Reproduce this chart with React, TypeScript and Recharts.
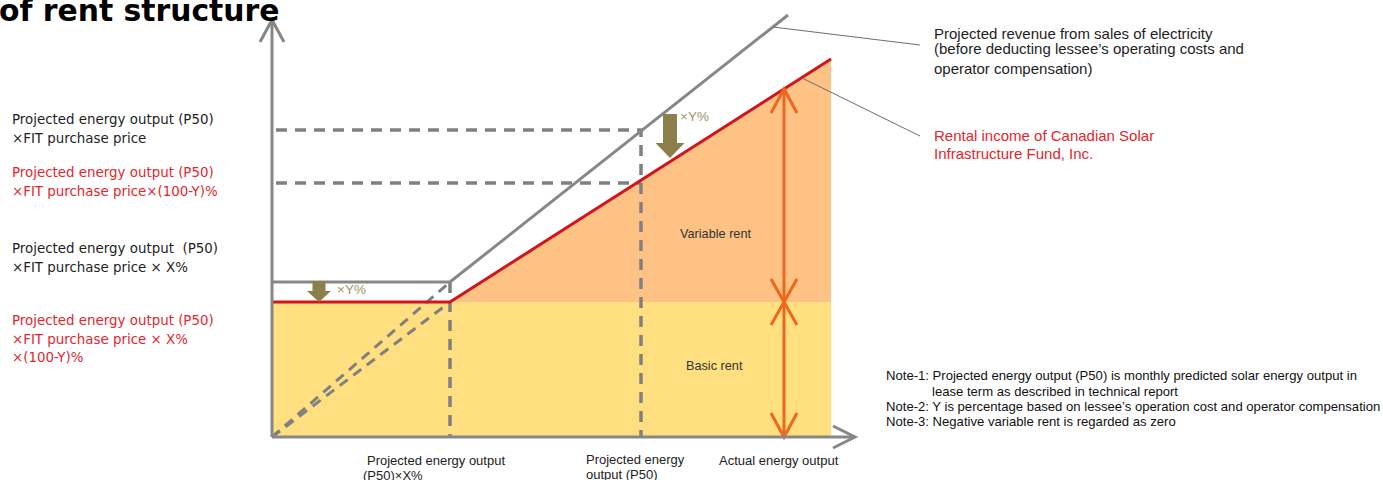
import React from "react";
import { Area, ComposedChart, Line, Scatter, XAxis, YAxis } from "recharts";

// diagram units: x = energy output, y = amount (origin where the two axes meet)
const BASIC_RENT_LEVEL = 135;

const revenueLine = [
  { output: 0, amount: 155 },
  { output: 178, amount: 155 },
  { output: 516, amount: 422 },
];
const revenueDashed = [
  { output: 0, amount: 0 },
  { output: 178, amount: 155 },
];
const rentLine = [
  { output: 0, amount: 135 },
  { output: 178, amount: 135 },
  { output: 559, amount: 378 },
];
const rentDashed = [
  { output: 0, amount: 0 },
  { output: 178, amount: 135 },
];
const basicRentArea = [
  { output: 0, amount: 135 },
  { output: 559, amount: 135 },
];
const variableRentArea = [
  { output: 178, amount: 135 },
  { output: 559, amount: 378 },
];
const p50RevenueGuide = [
  { output: 4, amount: 307 },
  { output: 369, amount: 307 },
  { output: 369, amount: 0 },
];
const p50RentGuide = [
  { output: 4, amount: 254 },
  { output: 369, amount: 254 },
];
const xPctGuide = [
  { output: 178, amount: 155 },
  { output: 178, amount: 0 },
];

const yAxisLine = [
  { output: 0, amount: 0 },
  { output: 0, amount: 417 },
];
const yAxisHead = [
  { output: -12, amount: 395 },
  { output: 0, amount: 417 },
  { output: 12, amount: 395 },
];
const xAxisLine = [
  { output: 0, amount: 0 },
  { output: 583, amount: 0 },
];
const xAxisHead = [
  { output: 561, amount: 11 },
  { output: 583, amount: 0 },
  { output: 561, amount: -11 },
];

const rentSpan = [
  { output: 512, amount: 0 },
  { output: 512, amount: 348 },
];
const rentSpanHeads = [
  [
    { output: 499, amount: 324 },
    { output: 512, amount: 348 },
    { output: 525, amount: 324 },
  ],
  [
    { output: 499, amount: 158 },
    { output: 512, amount: 135 },
    { output: 525, amount: 158 },
  ],
  [
    { output: 499, amount: 112 },
    { output: 512, amount: 135 },
    { output: 525, amount: 112 },
  ],
  [
    { output: 499, amount: 24 },
    { output: 512, amount: 0 },
    { output: 525, amount: 24 },
  ],
];

const revenueLeader = [
  { output: 501, amount: 410 },
  { output: 648, amount: 392 },
];
const rentLeader = [
  { output: 530, amount: 359 },
  { output: 648, amount: 301 },
];

const deductionHigh = [{ output: 398, amount: 279 }];
const deductionLow = [{ output: 47, amount: 135 }];

const titleText = "of rent structure";

const leftLabels = [
  { lines: ["Projected energy output (P50)", "×FIT purchase price"], y: 120, red: false },
  { lines: ["Projected energy output (P50)", "×FIT purchase price×(100-Y)%"], y: 173, red: true },
  { lines: ["Projected energy output  (P50)", "×FIT purchase price × X%"], y: 249, red: false },
  {
    lines: ["Projected energy output (P50)", "×FIT purchase price × X%", "×(100-Y)%"],
    y: 321,
    red: true,
  },
];

const revenueNote = [
  { text: "Projected revenue from sales of electricity", y: 33 },
  { text: "(before deducting lessee’s operating costs and", y: 48 },
  { text: "operator compensation)", y: 68 },
];
const rentNote = [
  { text: "Rental income of Canadian Solar", y: 135 },
  { text: "Infrastructure Fund, Inc.", y: 153 },
];

const footNotes = [
  { text: "Note-1: Projected energy output (P50) is monthly predicted solar energy output in", x: 886, y: 375 },
  { text: "lease term as described in technical report", x: 932, y: 391 },
  { text: "Note-2: Y is percentage based on lessee’s operation cost and operator compensation", x: 886, y: 406 },
  { text: "Note-3: Negative variable rent is regarded as zero", x: 886, y: 421 },
];

const axisLabels = [
  { text: "Projected energy output", x: 367, y: 460 },
  { text: "(P50)×X%", x: 363, y: 475 },
  { text: "Projected energy", x: 586, y: 459 },
  { text: "output (P50)", x: 586, y: 474 },
  { text: "Actual energy output", x: 719, y: 460 },
];

const GRAY = "#878787";
const DASH_GRAY = "#808080";
const RED = "#d2141c";
const ORANGE = "#ee6720";
const OLIVE = "#8c7f4b";
const TEXT_RED = "#e4262d";

function DownArrow(props: any) {
  const { cx, cy, len, head, halfHead, halfShaft } = props;
  if (cx == null || cy == null) return null;
  const pts = [
    [cx - halfShaft, cy - len],
    [cx + halfShaft, cy - len],
    [cx + halfShaft, cy - head],
    [cx + halfHead, cy - head],
    [cx, cy],
    [cx - halfHead, cy - head],
    [cx - halfShaft, cy - head],
  ]
    .map((p) => p.join(","))
    .join(" ");
  return <polygon points={pts} fill={OLIVE} />;
}

function TextLine({
  text,
  x,
  y,
  size,
  color,
  family,
  lh,
  bold,
}: {
  text: string;
  x: number;
  y: number;
  size: number;
  color: string;
  family: string;
  lh: number;
  bold?: boolean;
}) {
  return (
    <div
      style={{
        position: "absolute",
        left: x,
        top: y - lh / 2,
        fontSize: size,
        lineHeight: `${lh}px`,
        fontFamily: family,
        fontWeight: bold ? 700 : 400,
        color,
        whiteSpace: "pre",
      }}
    >
      {text}
    </div>
  );
}

const SANS = "'Liberation Sans', Arial, sans-serif";
const WIDE = "'DejaVu Sans', Verdana, sans-serif";

export default function App() {
  const line = (data: any[], key: string, color: string, width: number, dash?: string) => (
    <Line
      key={key}
      data={data}
      dataKey="amount"
      type="linear"
      stroke={color}
      strokeWidth={width}
      strokeDasharray={dash}
      dot={false}
      activeDot={false}
      isAnimationActive={false}
      legendType="none"
    />
  );

  return (
    <div
      style={{
        position: "absolute",
        left: 0,
        top: 0,
        width: 1383,
        height: 480,
        overflow: "hidden",
        background: "#fff",
      }}
    >
      <ComposedChart
        width={1383}
        height={480}
        margin={{ top: 0, right: 431, bottom: 23, left: 252 }}
      >
        <XAxis dataKey="output" type="number" domain={[-20, 680]} hide />
        <YAxis type="number" domain={[-20, 437]} hide />
        <Area
          data={basicRentArea}
          dataKey="amount"
          type="linear"
          baseValue={0}
          fill="#ffdf7f"
          fillOpacity={1}
          stroke="none"
          isAnimationActive={false}
        />
        <Area
          data={variableRentArea}
          dataKey="amount"
          type="linear"
          baseValue={BASIC_RENT_LEVEL}
          fill="#ffc285"
          fillOpacity={1}
          stroke="none"
          isAnimationActive={false}
        />
        {line(p50RevenueGuide, "g1", DASH_GRAY, 3.5, "11 8")}
        {line(p50RentGuide, "g2", DASH_GRAY, 3.5, "11 8")}
        {line(xPctGuide, "g3", DASH_GRAY, 3.5, "11 8")}
        {line(revenueDashed, "rd", DASH_GRAY, 3, "10 7")}
        {line(rentDashed, "rtd", DASH_GRAY, 3, "10 7")}
        {line(revenueLine, "rev", GRAY, 3)}
        {line(rentLine, "rent", RED, 3)}
        {line(revenueLeader, "l1", "#6e6e6e", 1)}
        {line(rentLeader, "l2", "#6e6e6e", 1)}
        {line(rentSpan, "span", ORANGE, 3)}
        {rentSpanHeads.map((h, i) => line(h, `h${i}`, ORANGE, 3))}
        {line(yAxisLine, "ya", GRAY, 3)}
        {line(yAxisHead, "yah", GRAY, 3)}
        {line(xAxisLine, "xa", GRAY, 3)}
        {line(xAxisHead, "xah", GRAY, 3)}
        <Scatter
          data={deductionHigh}
          dataKey="amount"
          isAnimationActive={false}
          shape={(p: any) => <DownArrow {...p} len={44} head={15} halfHead={14.5} halfShaft={7} />}
        />
        <Scatter
          data={deductionLow}
          dataKey="amount"
          isAnimationActive={false}
          shape={(p: any) => <DownArrow {...p} len={21} head={11} halfHead={12} halfShaft={6.5} />}
        />
      </ComposedChart>

      <TextLine text={titleText} x={-1} y={10} size={29.8} color="#000" family={WIDE} lh={29} bold />

      {leftLabels.map((b, i) =>
        b.lines.map((t, j) => (
          <TextLine
            key={`${i}-${j}`}
            text={t}
            x={12}
            y={b.y + j * 18.5}
            size={13.4}
            color={b.red ? TEXT_RED : "#1e1e1e"}
            family={WIDE}
            lh={18}
          />
        ))
      )}

      {revenueNote.map((n, i) => (
        <TextLine key={`rn${i}`} text={n.text} x={934} y={n.y} size={15} color="#1e1e1e" family={SANS} lh={17} />
      ))}
      {rentNote.map((n, i) => (
        <TextLine key={`rt${i}`} text={n.text} x={934} y={n.y} size={15} color={TEXT_RED} family={SANS} lh={17} />
      ))}
      {footNotes.map((n, i) => (
        <TextLine key={`fn${i}`} text={n.text} x={n.x} y={n.y} size={13.1} color="#111" family={SANS} lh={15} />
      ))}
      {axisLabels.map((n, i) => (
        <TextLine key={`ax${i}`} text={n.text} x={n.x} y={n.y} size={13} color="#222" family={SANS} lh={15} />
      ))}

      <TextLine text="Variable rent" x={680} y={234} size={12.7} color="#333" family={SANS} lh={15} />
      <TextLine text="Basic rent" x={686} y={366} size={12.7} color="#333" family={SANS} lh={15} />
      <TextLine text="×Y%" x={680} y={116} size={13.5} color="#9e9468" family={SANS} lh={15} />
      <TextLine text="×Y%" x={337} y={289} size={13.5} color="#9e9468" family={SANS} lh={15} />
    </div>
  );
}
